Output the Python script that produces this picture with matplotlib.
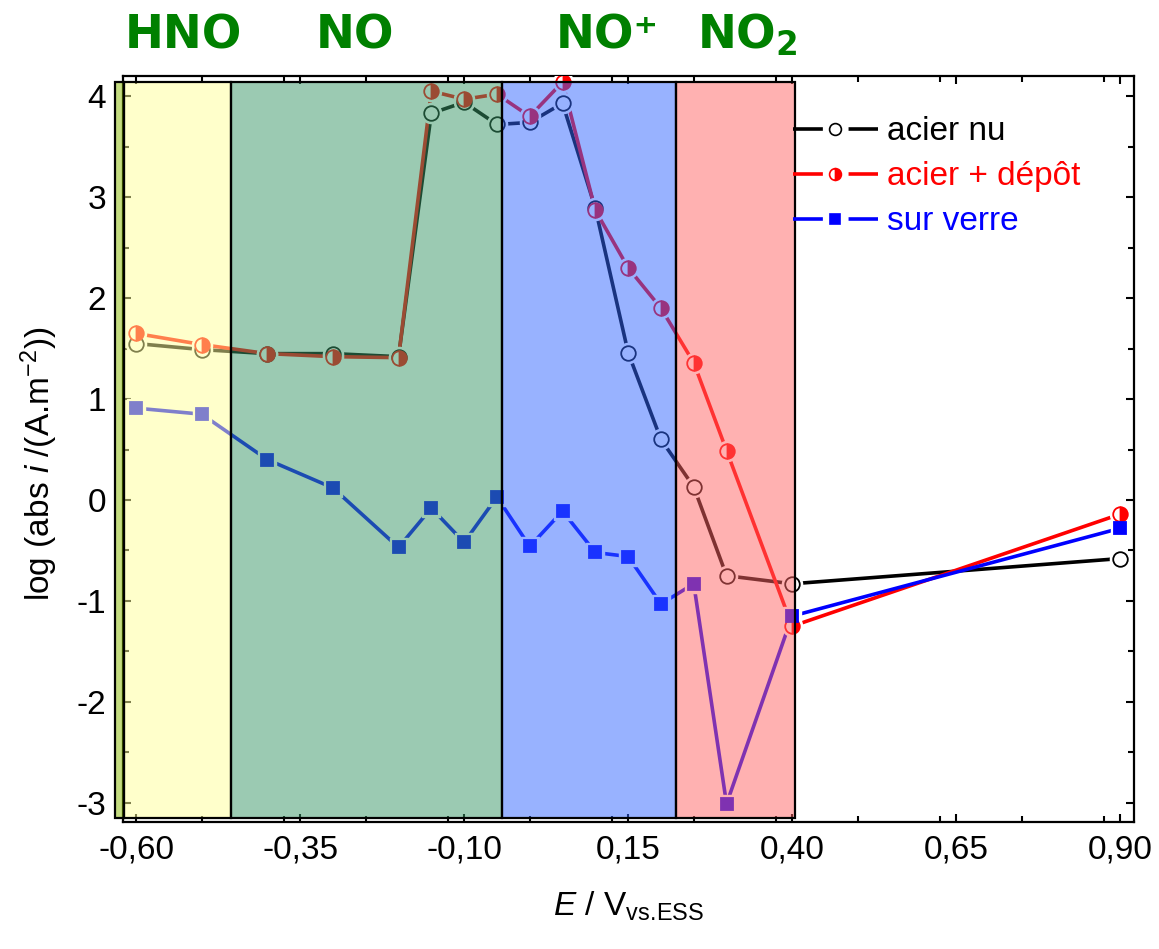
import matplotlib
matplotlib.use("Agg")
import matplotlib.pyplot as plt
from matplotlib.lines import Line2D
from matplotlib.patches import Rectangle
from matplotlib.ticker import MultipleLocator, FuncFormatter

plt.rcParams['font.family'] = ['Liberation Sans', 'DejaVu Sans']
plt.rcParams['mathtext.fontset'] = 'custom'
plt.rcParams['mathtext.rm'] = 'Liberation Sans'
plt.rcParams['mathtext.it'] = 'Liberation Sans:italic'
plt.rcParams['mathtext.bf'] = 'Liberation Sans:bold'
plt.rcParams['axes.unicode_minus'] = False
plt.rcParams['lines.scale_dashes'] = False

# potentials (V vs ESS)
E = [-0.60, -0.50, -0.40, -0.30, -0.20, -0.15, -0.10, -0.05, 0.00,
     0.05, 0.10, 0.15, 0.20, 0.25, 0.30, 0.40, 0.90]

# log(|i|) for each sample
acier_nu = [1.55, 1.49, 1.45, 1.45, 1.42, 3.83, 3.94, 3.72, 3.74,
            3.93, 2.89, 1.46, 0.60, 0.13, -0.75, -0.83, -0.58]
acier_depot = [1.65, 1.54, 1.45, 1.42, 1.41, 4.05, 3.97, 4.02, 3.80,
               4.14, 2.87, 2.30, 1.90, 1.36, 0.49, -1.25, -0.14]
sur_verre = [0.91, 0.85, 0.40, 0.12, -0.47, -0.08, -0.42, 0.03, -0.46,
             -0.11, -0.52, -0.56, -1.03, -0.83, -3.01, -1.15, -0.28]

# species domains: edges and colours
domain_edges = [-0.632, -0.618, -0.455, -0.042, 0.223, 0.405]
domain_colors = ['#89b901', '#ffff99', '#399767', '#3367ff', '#ff6565']
species = ['HNO', 'NO', 'NO⁺', r'NO$_\mathbf{2}$']
species_x = [-0.618, -0.326, 0.040, 0.255]

fig = plt.figure(figsize=(11.59, 9.49), dpi=100)
ax = fig.add_axes([0.1061, 0.1338, 0.8723, 0.7861])

series = [
    (acier_nu, 'black', 'o', dict(markerfacecolor='white', markeredgecolor='black'), 'acier nu'),
    (acier_depot, 'red', 'o', dict(markerfacecolor='red', markeredgecolor='red',
                                   fillstyle='right', markerfacecoloralt='white'), 'acier + dépôt'),
    (sur_verre, 'blue', 's', dict(markerfacecolor='blue', markeredgecolor='blue'), 'sur verre'),
]

for vals, col, mk, mkw, lab in series:
    ms = 10.5 if mk == 'o' else 9
    ax.plot(E, vals, color=col, lw=2.6, zorder=2)
    ax.plot(E, vals, linestyle='none', marker=mk, ms=ms + 4, color='white',
            markeredgecolor='white', zorder=3)
    ax.plot(E, vals, linestyle='none', marker=mk, ms=ms, mew=1.3, zorder=4, **mkw)

# translucent domains drawn over the curves
ylo, yhi = -3.15, 4.14
for i, c in enumerate(domain_colors):
    x0, x1 = domain_edges[i], domain_edges[i + 1]
    rgba = matplotlib.colors.to_rgba(c, 0.5)
    ax.add_patch(Rectangle((x0, ylo), x1 - x0, yhi - ylo, facecolor=rgba,
                           edgecolor='black', lw=1.6, zorder=5, clip_on=False))

for s, xs in zip(species, species_x):
    ax.text(xs, 1.0375, s, transform=ax.get_xaxis_transform(), ha='left',
            va='baseline', fontsize=33.5, fontweight='bold', color='#008000',
            family=['DejaVu Sans'], math_fontfamily='dejavusans')

ax.set_xlim(-0.62, 0.921)
ax.set_ylim(-3.19, 4.2)
ax.xaxis.set_minor_locator(MultipleLocator(0.125))
ax.yaxis.set_major_locator(MultipleLocator(1))
ax.yaxis.set_minor_locator(MultipleLocator(0.5))
ax.set_xticks([-0.60, -0.35, -0.10, 0.15, 0.40, 0.65, 0.90])
ax.xaxis.set_major_formatter(FuncFormatter(lambda v, p: f"{v:.2f}".replace('.', ',')))
ax.yaxis.set_major_formatter(FuncFormatter(lambda v, p: f"{v:.0f}"))
ax.tick_params(which='both', direction='in', top=True, right=True, width=1.5,
               labelsize=24)
ax.tick_params(which='major', length=6)
ax.tick_params(which='minor', length=4)
ax.tick_params(axis='x', pad=9)
ax.tick_params(axis='y', pad=12)
for sp in ax.spines.values():
    sp.set_linewidth(1.6)

ax.set_ylabel(r"log (abs $\mathit{i}$ /(A.m$^{-2}$))", fontsize=24)
ax.yaxis.set_label_coords(-0.062, 0.48)
ax.set_xlabel(r"$\mathit{E}$ / V$_{\mathrm{vs.\!ESS}}$", fontsize=24)
ax.xaxis.set_label_coords(0.5, -0.09)

handles = []
for vals, col, mk, mkw, lab in series:
    ln = Line2D([], [], color=col, lw=2.6, linestyle=(0, (21.5, 18.5)))
    mkh = Line2D([], [], linestyle='none', marker=mk, ms=8.5 if mk == 'o' else 7.5,
                 mew=1.2, **mkw)
    handles.append((ln, mkh))
leg = ax.legend(handles, [s[4] for s in series], loc='upper left',
                bbox_to_anchor=(0.6627, 0.946), frameon=False, fontsize=24,
                handlelength=2.55, handletextpad=0.27, labelspacing=0.42,
                borderpad=0, borderaxespad=0)
for t, s in zip(leg.get_texts(), series):
    t.set_color(s[1])
leg.set_zorder(10)

fig.savefig("out.png", dpi=100)
